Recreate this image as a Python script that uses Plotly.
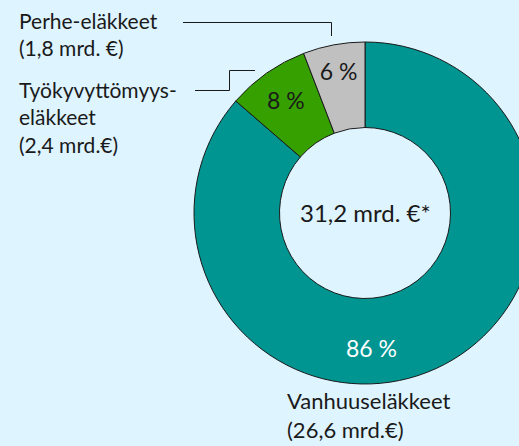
import plotly.graph_objects as go

# ---- data ----
categories = ["Vanhuuseläkkeet", "Työkyvyttömyyseläkkeet", "Perhe-eläkkeet"]
values_mrd = [26.6, 2.4, 1.8]
pct_labels = ["86 %", "8 %", "6 %"]
label_texts = {
    "Perhe-eläkkeet": "Perhe-eläkkeet<br>(1,8 mrd. €)",
    "Työkyvyttömyyseläkkeet": "Työkyvyttömyys-<br>eläkkeet<br>(2,4 mrd.€)",
    "Vanhuuseläkkeet": "Vanhuuseläkkeet<br>(26,6 mrd.€)",
}
center_text = "31,2 mrd. €*"
colors = ["#009591", "#36A000", "#C0C0C0"]
text_colors = ["#ffffff", "#1a1a1a", "#1a1a1a"]

W, H = 540, 446
BG = "#DEF4FE"
FONT = "Lato"
INK = "#1a1a1a"

def px(x):
    return x / W

def py(y):
    return 1 - y / H

# the large slice's label is placed near the bottom of the ring (as in the original)
slice_text = [""] + pct_labels[1:]

fig = go.Figure()
fig.add_trace(go.Pie(
    labels=categories,
    values=values_mrd,
    text=slice_text,
    textinfo="text",
    textposition="inside",
    insidetextorientation="horizontal",
    insidetextfont=dict(color=text_colors, size=23, family=FONT),
    hole=0.5,
    sort=False,
    direction="clockwise",
    rotation=0,
    marker=dict(colors=colors, line=dict(color=INK, width=1)),
    domain=dict(x=[px(194), px(536)], y=[py(384), py(42)]),
    showlegend=False,
    hoverinfo="label+value",
))

annotations = [
    dict(text=center_text, x=px(365), y=py(213), xanchor="center", yanchor="middle",
         font=dict(size=24, color=INK, family=FONT)),
    dict(text=pct_labels[0], x=px(371), y=py(348), xanchor="center", yanchor="middle",
         font=dict(size=23, color=text_colors[0], family=FONT)),
    dict(text=label_texts["Perhe-eläkkeet"], x=px(17), y=py(6), xanchor="left", yanchor="top",
         align="left", font=dict(size=21, color=INK, family=FONT)),
    dict(text=label_texts["Työkyvyttömyyseläkkeet"], x=px(17), y=py(75), xanchor="left",
         yanchor="top", align="left", font=dict(size=21, color=INK, family=FONT)),
    dict(text=label_texts["Vanhuuseläkkeet"], x=px(285), y=py(445), xanchor="left",
         yanchor="bottom", align="left", font=dict(size=22, color=INK, family=FONT)),
]
for a in annotations:
    a.update(xref="paper", yref="paper", showarrow=False)

line_style = dict(color=INK, width=1)
shapes = [
    dict(type="path",
         path=f"M {px(183)},{py(22.5)} L {px(331.5)},{py(22.5)} L {px(331.5)},{py(36)}",
         xref="paper", yref="paper", line=line_style),
    dict(type="path",
         path=f"M {px(195)},{py(90.5)} L {px(229.5)},{py(90.5)} L {px(229.5)},{py(70.5)} L {px(255)},{py(70.5)}",
         xref="paper", yref="paper", line=line_style),
]

fig.update_layout(
    width=W, height=H, autosize=False,
    margin=dict(l=0, r=0, t=0, b=0),
    paper_bgcolor=BG, plot_bgcolor=BG,
    annotations=annotations, shapes=shapes,
    font=dict(family=FONT, color=INK),
)

post = ("document.documentElement.style.overflow='hidden';"
        "document.body.style.overflow='hidden';"
        "document.body.style.margin='0';")
fig.write_html("out.html", post_script=post, config={"displayModeBar": False})
